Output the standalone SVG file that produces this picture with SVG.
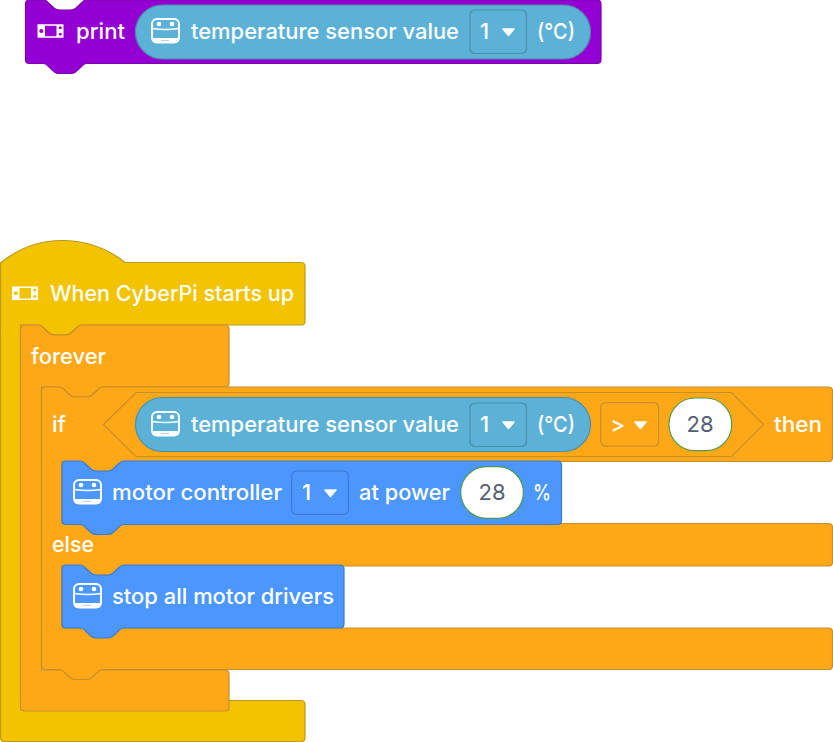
<svg xmlns="http://www.w3.org/2000/svg" width="833" height="742" viewBox="0 0 833 742">
<style>
.purple{fill:#9400D3;stroke:#7A00AD;stroke-width:1.2}
.yellow{fill:#F3C300;stroke:#B99A1B;stroke-width:1.2}
.orange{fill:#FFA817;stroke:#C48F2C;stroke-width:1.2}
.blue{fill:#4C97FF;stroke:#3D79CC;stroke-width:1.2}
.rep{fill:#5CB1D6;stroke:#4A8EAB;stroke-width:1.2}
.dd{fill:none;stroke-width:1.2}
.input{fill:#fff;stroke:#4C9A52;stroke-width:1.2}
text{font-family:"Inter","Noto Sans","Liberation Sans",sans-serif;font-size:22px;fill:#fff;font-weight:500}
.num{fill:#575E75;text-anchor:middle;font-weight:400}
</style>
<defs>
<g id="cyber">
<rect x="1" y="1" width="27" height="23.500" rx="5" fill="none" stroke="#fff" stroke-width="2"/>
<path d="M1 10.500Q14.500 12.500 28 10.500" fill="none" stroke="#fff" stroke-width="1.600"/>
<circle cx="8" cy="6" r="2.300" fill="#fff"/><circle cx="21" cy="6" r="2.300" fill="#fff"/>
<path d="M1 20H28V21a4 4 0 0 1-4 4H5a4 4 0 0 1-4-4Z" fill="#fff"/>
<path d="M10.500 22.500h8" stroke="#7f9fc0" stroke-width="1" stroke-dasharray="1 1" fill="none"/>
</g>
<path id="device" fill="#fff" fill-rule="evenodd" d="M0 0H26V13.500H0ZM7.500 1.500V12H19V1.500ZM3.800 4.700a2 2 0 1 0 .01 0ZM22.800 1.900a1.500 1.500 0 1 0 .01 0ZM22.800 8.400a1.500 1.500 0 1 0 .01 0Z"/>
<path id="caret" fill="#fff" stroke="#fff" stroke-width="1.500" stroke-linejoin="round" d="M1 1H12L6.500 7.500Z"/>
</defs>

<g id="print-block">
<path class="purple" d="M25.500 4q0-4 4-4H43q3 0 5 2.500l6.500 6q2 1.500 5 1.500h11q3 0 5-1.500l6.500-6q2-2.500 5-2.500H597q4 0 4 4V59.500q0 4-4 4H87q-3 0-5 2.500l-6.500 6q-2 1.500-5 1.500h-11q-3 0-5-1.500l-6.500-6q-2-2.500-5-2.500H29.500q-4 0-4-4Z"/>
<use href="#device" x="37.500" y="24.300"/>
<text x="76" y="39" textLength="49" lengthAdjust="spacingAndGlyphs">print</text>
</g>
<g id="print-temperature">
<rect class="rep" x="135.500" y="5" width="455" height="54" rx="27"/>
<use href="#cyber" x="151" y="18"/>
<text x="191" y="39" textLength="268" lengthAdjust="spacingAndGlyphs">temperature sensor value</text>
<rect class="dd" x="470" y="10" width="56.500" height="43.500" rx="5" stroke="#4A8EAB"/>
<text x="480" y="39">1</text>
<use href="#caret" x="502" y="28"/>
<text x="537" y="39" textLength="38" lengthAdjust="spacingAndGlyphs">(°C)</text>
</g>

<g id="when-starts">
<path class="yellow" d="M.5 263C20 247 40 240.500 62 240.500C85 240.500 107 248 125 262.500H301q4 0 4 4V321q0 4-4 4H82q-3 0-5 2.500l-6.500 6q-2 1.500-5 1.500h-11q-3 0-5-1.500l-6.500-6q-2-2.500-5-2.500H20.500V700.500H301q4 0 4 4V737.500q0 4-4 4H4q-3.500 0-3.500-4Z"/>
<use href="#device" x="12" y="286.500"/>
<text x="50" y="301" textLength="244" lengthAdjust="spacingAndGlyphs">When CyberPi starts up</text>
</g>

<g id="forever">
<path class="orange" d="M20.500 329q0-4 4-4H38q3 0 5 2.500l6.500 6q2 1.500 5 1.500h11q3 0 5-1.500l6.500-6q2-2.500 5-2.500H225q4 0 4 4V383q0 4-4 4H103q-3 0-5 2.500l-6.500 6q-2 1.500-5 1.500h-11q-3 0-5-1.500l-6.500-6q-2-2.500-5-2.500H41.500V670H225q4 0 4 4V707q0 4-4 4H24.500q-4 0-4-4Z"/>
<text x="31" y="364" textLength="75" lengthAdjust="spacingAndGlyphs">forever</text>
</g>

<g id="if-else">
<path class="orange" d="M41.500 391q0-4 4-4H59q3 0 5 2.500l6.500 6q2 1.500 5 1.500h11q3 0 5-1.500l6.500-6q2-2.500 5-2.500H828.500q4 0 4 4V457.500q0 4-4 4H124q-3 0-5 2.500l-6.500 6q-2 1.500-5 1.500h-11q-3 0-5-1.500l-6.500-6q-2-2.500-5-2.500H62V523.500H828.500q4 0 4 4V562q0 4-4 4H124q-3 0-5 2.500l-6.500 6q-2 1.500-5 1.500h-11q-3 0-5-1.500l-6.500-6q-2-2.500-5-2.500H62V628H828.500q4 0 4 4V665.500q0 4-4 4H103q-3 0-5 2.500l-6.500 6q-2 1.500-5 1.500h-11q-3 0-5-1.500l-6.500-6q-2-2.500-5-2.500H45.500q-4 0-4-4Z"/>
<text x="52" y="432" textLength="14" lengthAdjust="spacingAndGlyphs">if</text>
<text x="774" y="432" textLength="48" lengthAdjust="spacingAndGlyphs">then</text>
<text x="52" y="552" textLength="42" lengthAdjust="spacingAndGlyphs">else</text>
</g>

<g id="condition">
<path class="orange" d="M103.500 424.500L136 392.500H731.500L763.500 424.500L731.500 456.500H136Z"/>
</g>
<g id="if-temperature">
<rect class="rep" x="135.500" y="397.500" width="455" height="54" rx="27"/>
<use href="#cyber" x="151" y="411"/>
<text x="191" y="432" textLength="268" lengthAdjust="spacingAndGlyphs">temperature sensor value</text>
<rect class="dd" x="470" y="403" width="56.500" height="43.500" rx="5" stroke="#4A8EAB"/>
<text x="480" y="432">1</text>
<use href="#caret" x="502" y="421"/>
<text x="537" y="432" textLength="38" lengthAdjust="spacingAndGlyphs">(°C)</text>
</g>
<g id="operator">
<rect class="dd" x="600.700" y="402.700" width="58" height="43.500" rx="5" stroke="#C48F2C"/>
<text x="610.500" y="432">&gt;</text>
<use href="#caret" x="634" y="421"/>
</g>
<g id="threshold">
<rect class="input" x="669" y="398" width="62.700" height="52.700" rx="26"/>
<text class="num" x="700" y="432">28</text>
</g>

<g id="motor-controller">
<path class="blue" d="M62 465q0-4 4-4H80q3 0 5 2.500l6.500 6q2 1.500 5 1.500h11q3 0 5-1.500l6.500-6q2-2.500 5-2.500H557.500q4 0 4 4V520.500q0 4-4 4H124q-3 0-5 2.500l-6.500 6q-2 1.500-5 1.500h-11q-3 0-5-1.500l-6.500-6q-2-2.500-5-2.500H66q-4 0-4-4Z"/>
<use href="#cyber" x="73" y="479"/>
<text x="112" y="500" textLength="170" lengthAdjust="spacingAndGlyphs">motor controller</text>
<rect class="dd" x="291.700" y="471" width="56.700" height="43.300" rx="5" stroke="#3D79CC"/>
<text x="302" y="500">1</text>
<use href="#caret" x="324" y="489"/>
<text x="359" y="500" textLength="91" lengthAdjust="spacingAndGlyphs">at power</text>
<rect class="input" x="460.700" y="466.700" width="62.700" height="51.600" rx="25.800"/>
<text class="num" x="492" y="500">28</text>
<text x="533" y="500" textLength="18" lengthAdjust="spacingAndGlyphs">%</text>
</g>

<g id="stop-motors">
<path class="blue" d="M62 569q0-4 4-4H80q3 0 5 2.500l6.500 6q2 1.500 5 1.500h11q3 0 5-1.500l6.500-6q2-2.500 5-2.500H340q4 0 4 4V624q0 4-4 4H124q-3 0-5 2.500l-6.500 6q-2 1.500-5 1.500h-11q-3 0-5-1.500l-6.500-6q-2-2.500-5-2.500H66q-4 0-4-4Z"/>
<use href="#cyber" x="73" y="583"/>
<text x="112" y="604" textLength="222" lengthAdjust="spacingAndGlyphs">stop all motor drivers</text>
</g>
</svg>
